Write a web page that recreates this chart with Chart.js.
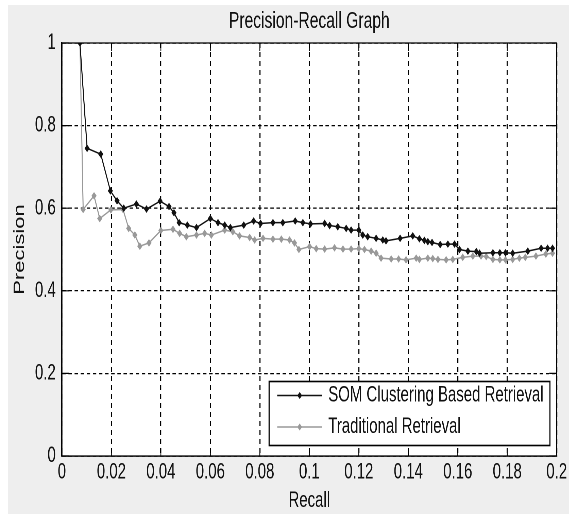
<!DOCTYPE html>
<html>
<head>
<meta charset="utf-8">
<script src="https://cdn.jsdelivr.net/npm/chart.js@4"></script>
<style>
  html, body { margin: 0; padding: 0; overflow: hidden; background: #fff; }
  /* the reference figure is squeezed horizontally, so draw wide and squeeze */
  #frame { width: 569px; height: 514px; overflow: hidden; }
  #wrap { width: 837px; height: 514px; transform: scaleX(0.68); transform-origin: 0 0; }
</style>
</head>
<body>
<div id="frame"><div id="wrap"><canvas id="myChart" width="837" height="514"></canvas></div></div>
<script>
const recallSOM = [
  0.0073, 0.0102, 0.0157, 0.0196, 0.0223, 0.025, 0.0301, 0.0342, 0.0397, 0.0433,
  0.0453, 0.0474, 0.0507, 0.0544, 0.060, 0.0631, 0.0658, 0.0681, 0.0735, 0.0775,
  0.0803, 0.0853, 0.0893, 0.0943, 0.0974, 0.1005, 0.1062, 0.1082, 0.1115, 0.1149,
  0.1169, 0.120, 0.1216, 0.1236, 0.127, 0.1297, 0.131, 0.1367, 0.1418, 0.1445,
  0.1465, 0.1479, 0.1496, 0.1529, 0.156, 0.1587, 0.1607, 0.1641, 0.1675, 0.1688,
  0.1742, 0.177, 0.1793, 0.1822, 0.1883, 0.1937, 0.1963, 0.1983
];
const precisionSOM = [
  1.0, 0.745, 0.731, 0.642, 0.618, 0.600, 0.610, 0.598, 0.617, 0.604,
  0.589, 0.565, 0.559, 0.553, 0.575, 0.565, 0.559, 0.553, 0.559, 0.569,
  0.563, 0.565, 0.565, 0.569, 0.565, 0.562, 0.563, 0.558, 0.555, 0.551,
  0.547, 0.547, 0.535, 0.531, 0.527, 0.523, 0.521, 0.527, 0.533, 0.526,
  0.522, 0.519, 0.517, 0.512, 0.513, 0.513, 0.500, 0.496, 0.495, 0.491,
  0.492, 0.492, 0.492, 0.491, 0.496, 0.503, 0.503, 0.503
];
const recallTrad = [
  0.0073, 0.0086, 0.013, 0.0153, 0.0198, 0.0247, 0.027, 0.0295, 0.0315, 0.0352,
  0.040, 0.0449, 0.0476, 0.0503, 0.0544, 0.0577, 0.0604, 0.0658, 0.0691, 0.0718,
  0.0759, 0.0779, 0.0813, 0.0853, 0.0887, 0.092, 0.094, 0.0958, 0.1001, 0.1028,
  0.1062, 0.1102, 0.1136, 0.1169, 0.120, 0.1223, 0.125, 0.127, 0.129, 0.1331,
  0.1361, 0.1391, 0.1432, 0.1445, 0.1479, 0.1499, 0.152, 0.1553, 0.158, 0.162,
  0.1661, 0.1694, 0.1715, 0.1742, 0.177, 0.1793, 0.1822, 0.1849, 0.1873, 0.1916,
  0.1956, 0.1983
];
const precisionTrad = [
  1.0, 0.597, 0.630, 0.575, 0.596, 0.597, 0.551, 0.535, 0.508, 0.516,
  0.546, 0.549, 0.539, 0.531, 0.535, 0.539, 0.535, 0.547, 0.543, 0.533,
  0.529, 0.523, 0.527, 0.525, 0.525, 0.523, 0.516, 0.500, 0.507, 0.502,
  0.501, 0.504, 0.501, 0.501, 0.502, 0.500, 0.496, 0.491, 0.479, 0.477,
  0.477, 0.475, 0.479, 0.476, 0.479, 0.478, 0.476, 0.475, 0.476, 0.481,
  0.484, 0.484, 0.483, 0.476, 0.475, 0.475, 0.476, 0.479, 0.481, 0.484,
  0.489, 0.491
];
const seriesNames = ['SOM Clustering Based Retrieval', 'Traditional Retrieval'];
const xTicks = [0, 0.02, 0.04, 0.06, 0.08, 0.1, 0.12, 0.14, 0.16, 0.18, 0.2];
const yTicks = [0, 0.2, 0.4, 0.6, 0.8, 1];

Chart.defaults.font.family = "'Liberation Sans', Arial, sans-serif";
Chart.defaults.color = '#111';

const ctx = document.getElementById('myChart').getContext('2d');

const toPoints = (xs, ys) => xs.map((x, i) => ({x: x, y: ys[i]}));
const fmt = v => String(parseFloat(Number(v).toFixed(2)));

// grey figure background + white axes area
const figureBg = {
  id: 'figureBg',
  beforeDraw(chart) {
    const {ctx, width, height, chartArea: a} = chart;
    ctx.save();
    ctx.fillStyle = '#eeeeee';
    ctx.fillRect(12, 5, width - 12, height - 5);
    ctx.fillStyle = '#ffffff';
    ctx.fillRect(a.left, a.top, a.right - a.left, a.bottom - a.top);
    ctx.restore();
  }
};

// matlab style box with inward ticks, and the boxed legend
const axesBox = {
  id: 'axesBox',
  afterDraw(chart) {
    const {ctx, chartArea: a, scales} = chart;
    ctx.save();
    ctx.strokeStyle = '#000';
    ctx.setLineDash([]);
    ctx.lineWidth = 1.2;
    ctx.beginPath();
    ctx.moveTo(a.left, a.top); ctx.lineTo(a.right, a.top);
    ctx.moveTo(a.left, a.bottom); ctx.lineTo(a.right, a.bottom);
    xTicks.forEach(v => {
      const px = scales.x.getPixelForValue(v);
      ctx.moveTo(px, a.bottom); ctx.lineTo(px, a.bottom - 8);
      ctx.moveTo(px, a.top); ctx.lineTo(px, a.top + 8);
    });
    ctx.stroke();
    ctx.lineWidth = 1.6;
    ctx.beginPath();
    ctx.moveTo(a.left, a.top); ctx.lineTo(a.left, a.bottom);
    ctx.moveTo(a.right, a.top); ctx.lineTo(a.right, a.bottom);
    ctx.stroke();
    ctx.lineWidth = 1.2;
    ctx.beginPath();
    yTicks.forEach(v => {
      const py = scales.y.getPixelForValue(v);
      ctx.moveTo(a.left, py); ctx.lineTo(a.left + 11, py);
      ctx.moveTo(a.right, py); ctx.lineTo(a.right - 11, py);
    });
    ctx.stroke();

    // legend
    const right = a.right - 10, bottom = a.bottom - 10.5;
    const left = right - 413, top = bottom - 64;
    ctx.fillStyle = '#fff';
    ctx.fillRect(left, top, right - left, bottom - top);
    ctx.lineWidth = 1.6;
    ctx.strokeRect(left, top, right - left, bottom - top);
    ctx.font = "22px 'Liberation Sans', Arial, sans-serif";
    ctx.textBaseline = 'middle';
    chart.data.datasets.forEach((ds, i) => {
      const cy = top + 14 + i * 31.5;
      ctx.strokeStyle = ds.borderColor;
      ctx.fillStyle = ds.borderColor;
      ctx.lineWidth = 1.5;
      ctx.beginPath();
      ctx.moveTo(left + 12, cy); ctx.lineTo(left + 78, cy);
      ctx.stroke();
      const mx = left + 45;
      ctx.beginPath();
      ctx.moveTo(mx, cy - 3.5); ctx.lineTo(mx + 3.5, cy);
      ctx.lineTo(mx, cy + 3.5); ctx.lineTo(mx - 3.5, cy);
      ctx.closePath();
      ctx.fill();
      ctx.fillStyle = '#111';
      ctx.fillText(ds.label, left + 87, cy);
    });
    ctx.restore();
  }
};

const config = {
  type: 'line',
  data: {
    datasets: [{
      label: seriesNames[0],
      data: toPoints(recallSOM, precisionSOM),
      borderColor: '#111111',
      backgroundColor: '#111111',
      borderWidth: 1.5,
      pointStyle: 'rectRot',
      pointRadius: 3.8,
      pointBorderWidth: 0,
      tension: 0
    }, {
      label: seriesNames[1],
      data: toPoints(recallTrad, precisionTrad),
      borderColor: '#999999',
      backgroundColor: '#999999',
      borderWidth: 1.5,
      pointStyle: 'rectRot',
      pointRadius: 3.8,
      pointBorderWidth: 0,
      tension: 0
    }]
  },
  options: {
    responsive: false,
    devicePixelRatio: 2,
    animation: false,
    events: [],
    layout: { padding: { left: 0, right: 17, top: 0, bottom: 0 } },
    plugins: {
      legend: { display: false },
      tooltip: { enabled: false },
      title: {
        display: true,
        text: 'Precision-Recall Graph',
        fullSize: false,
        color: '#111',
        font: { size: 23, weight: 'normal', lineHeight: 1.2 },
        padding: { top: 8, bottom: 7.4 }
      }
    },
    scales: {
      x: {
        type: 'linear',
        min: 0,
        max: 0.2,
        afterFit: s => { s.height = 58; },
        afterBuildTicks: s => { s.ticks = xTicks.map(v => ({value: v})); },
        grid: { color: '#000', lineWidth: 1.6, drawTicks: false },
        border: { display: true, color: '#000', width: 1.2, dash: [5, 4] },
        ticks: { padding: 3, font: { size: 22 }, color: '#111', maxRotation: 0, callback: fmt },
        title: { display: true, text: 'Recall', color: '#111', font: { size: 22 }, padding: { top: 0, bottom: 0 } }
      },
      y: {
        type: 'linear',
        min: 0,
        max: 1,
        afterFit: s => { s.width = 91; },
        afterBuildTicks: s => { s.ticks = yTicks.map(v => ({value: v})); },
        grid: { color: '#000', lineWidth: 1.2, drawTicks: false },
        border: { display: true, color: '#000', width: 1.6, dash: [5, 4] },
        ticks: { padding: 9, font: { size: 22 }, color: '#111', callback: fmt },
        title: { display: true, text: 'Precision', color: '#111', font: { size: 22 }, padding: { top: 16, bottom: 0 } }
      }
    }
  },
  plugins: [figureBg, axesBox]
};

const myChart = new Chart(ctx, config);
</script>
</body>
</html>
